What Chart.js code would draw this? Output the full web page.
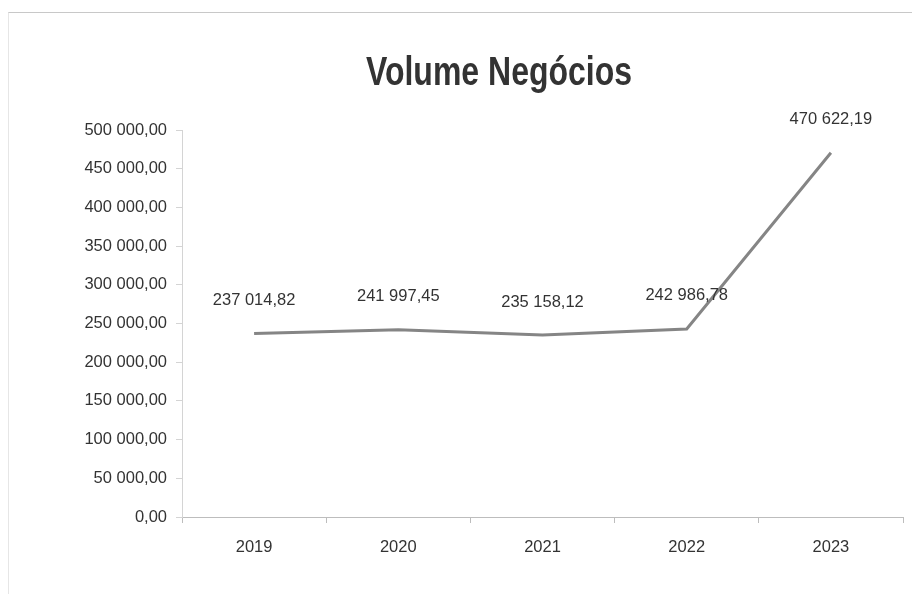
<!DOCTYPE html>
<html>
<head>
<meta charset="utf-8">
<script src="https://cdn.jsdelivr.net/npm/chart.js@4.4.1/dist/chart.umd.min.js"></script>
<style>
  body { margin: 0; background: #fff; }
  #wrap { position: relative; width: 912px; height: 594px; }
  #frame { position: absolute; left: 8px; top: 12px; right: 0; bottom: 0;
           border-top: 1px solid #c8c8c8; border-left: 1px solid #e6e6e6; pointer-events: none; }
</style>
</head>
<body>
<div id="wrap">
  <canvas id="chart" width="912" height="594"></canvas>
  <div id="frame"></div>
</div>
<script>
const years = ["2019", "2020", "2021", "2022", "2023"];
const volume = [237014.82, 241997.45, 235158.12, 242986.78, 470622.19];
const yMax = 500000;
const yStep = 50000;
const chartTitle = "Volume Negócios";

const FONT = "'Liberation Sans', Arial, sans-serif";
const TEXT = "#333";

// numbers like 237 014,82
function fmt(v) {
  let parts = v.toFixed(2).split(".");
  let int = parts[0].replace(/\B(?=(\d{3})+(?!\d))/g, " ");
  return int + "," + parts[1];
}

// value above each point
const valueLabels = {
  id: "valueLabels",
  afterDatasetsDraw(chart) {
    const ctx = chart.ctx;
    const meta = chart.getDatasetMeta(0);
    ctx.save();
    ctx.font = "16.5px " + FONT;
    ctx.fillStyle = TEXT;
    ctx.textAlign = "center";
    ctx.textBaseline = "middle";
    meta.data.forEach((pt, i) => {
      ctx.fillText(fmt(chart.data.datasets[0].data[i]), pt.x, pt.y - 33);
    });
    ctx.restore();
  }
};

// condensed bold title, a bit left of the plot centre like the original
const narrowTitle = {
  id: "narrowTitle",
  afterDraw(chart) {
    const ctx = chart.ctx;
    ctx.save();
    ctx.translate(499, 85);
    ctx.scale(0.8, 1);
    ctx.font = "bold 40px " + FONT;
    ctx.fillStyle = TEXT;
    ctx.textAlign = "center";
    ctx.textBaseline = "alphabetic";
    ctx.fillText(chartTitle, 0, 0);
    ctx.restore();
  }
};

const ctx = document.getElementById("chart");
new Chart(ctx, {
  type: "line",
  data: {
    labels: years,
    datasets: [{
      data: volume,
      borderColor: "#858585",
      borderWidth: 3,
      pointRadius: 0,
      tension: 0,
      clip: false
    }]
  },
  options: {
    responsive: false,
    animation: false,
    layout: { padding: { left: 0, right: 9, top: 130, bottom: 0 } },
    plugins: {
      legend: { display: false },
      tooltip: { enabled: false },
      title: { display: false }
    },
    scales: {
      x: {
        offset: true,
        grid: { offset: true, drawOnChartArea: false, tickLength: 6, color: "#bdbdbd" },
        border: { color: "#bdbdbd", width: 1 },
        ticks: { color: TEXT, padding: 15, font: { family: FONT, size: 16.5 } },
        afterFit: (s) => { s.height = 77; }
      },
      y: {
        min: 0,
        max: yMax,
        grid: { drawOnChartArea: false, tickLength: 6, color: "#d4d4d4" },
        border: { color: "#d4d4d4", width: 1 },
        ticks: {
          stepSize: yStep,
          color: TEXT,
          padding: 9,
          font: { family: FONT, size: 16.5 },
          callback: (v) => fmt(v)
        },
        afterFit: (s) => { s.width = 182; }
      }
    }
  },
  plugins: [valueLabels, narrowTitle]
});
</script>
</body>
</html>
